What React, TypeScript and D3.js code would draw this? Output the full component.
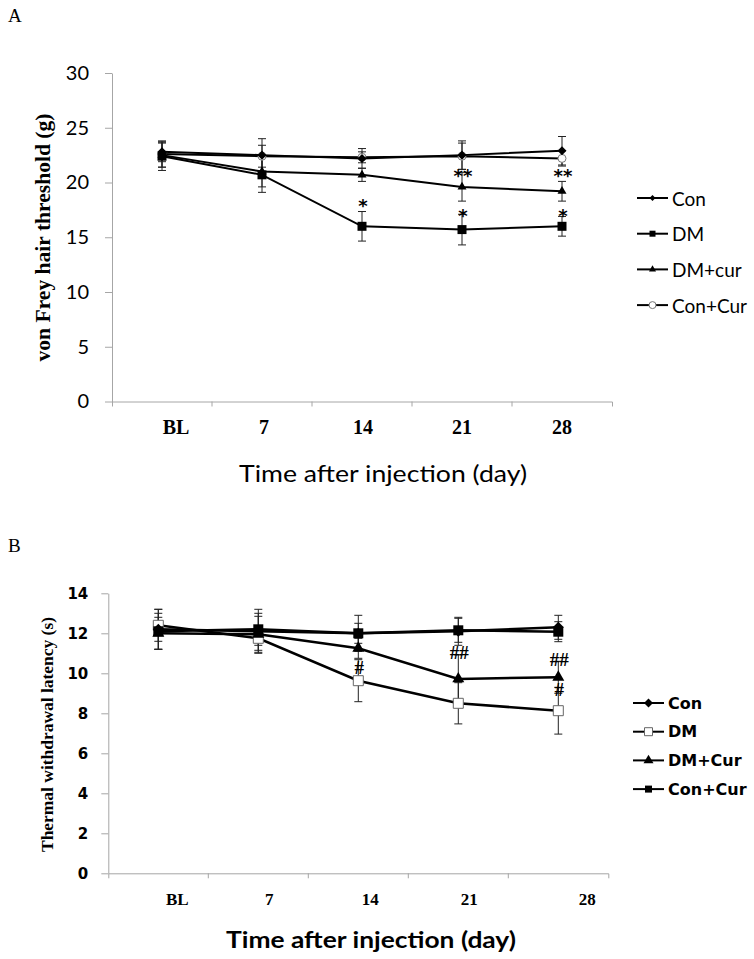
import React, { useEffect, useRef } from 'react';
import * as d3 from 'd3';

// categories shared by both panels
const days = ['BL', '7', '14', '21', '28'];

// Panel A: von Frey hair threshold (g)
const aNames = ['Con', 'DM', 'DM+cur', 'Con+Cur'];
const aCon = [22.8, 22.5, 22.2, 22.5, 22.9];
const aConErr = [0.9, 1.5, 0.9, 1.3, 1.3];
const aDM = [22.4, 20.7, 16.0, 15.7, 16.0];
const aDMErr = [1.3, 1.6, 1.35, 1.4, 0.9];
const aDMCur = [22.5, 21.0, 20.7, 19.6, 19.2];
const aDMCurErr = [1.1, 1.4, 0.6, 1.3, 0.9];
const aConCur = [22.6, 22.4, 22.3, 22.4, 22.2];
const aConCurErr = [1.2, 1.0, 0.5, 1.2, 0.7];
const aTicks = [0, 5, 10, 15, 20, 25, 30];
const aNoteDays = ['14', '21', '21', '28', '28'];
const aNoteText = ['*', '**', '*', '**', '*'];
const aNoteValue = [18.3, 21.0, 17.4, 21.0, 17.4];

// Panel B: thermal withdrawal latency (s)
const bNames = ['Con', 'DM', 'DM+Cur', 'Con+Cur'];
const bCon = [12.2, 12.1, 12.0, 12.1, 12.3];
const bConErr = [1.0, 1.1, 0.9, 0.7, 0.6];
const bDM = [12.4, 11.75, 9.63, 8.5, 8.13];
const bDMErr = [0.8, 0.6, 1.05, 1.03, 1.17];
const bDMCur = [12.0, 11.95, 11.25, 9.72, 9.8];
const bDMCurErr = [0.8, 0.9, 0.5, 1.2, 0.8];
const bConCur = [12.1, 12.2, 12.0, 12.15, 12.08];
const bConCurErr = [0.9, 0.8, 0.5, 0.6, 0.5];
const bTicks = [0, 2, 4, 6, 8, 10, 12, 14];
const bNoteDays = ['14', '21', '28', '28'];
const bNoteText = ['#', '##', '##', '#'];
const bNoteValue = [10.27, 11.03, 10.67, 9.17];

// label nudges seen in the figure (px from band centre)
const tickShiftA = [14, 2, 1, 0, 0];
const tickShiftB = [19, 11, 12, 11, 29];

const SERIF = '"Liberation Serif", "Times New Roman", serif';
const CAL = 'Lato, "Open Sans", sans-serif';
const VERD = '"DejaVu Sans", Verdana, sans-serif';
const AXIS = '#a6a6a6';

type Kind = 'diamond' | 'square' | 'triangle' | 'circle' | 'openSquare';

function marker(g: any, kind: Kind, cx: number, cy: number, size: number) {
  if (kind === 'circle') {
    g.append('circle').attr('cx', cx).attr('cy', cy).attr('r', size / 2)
      .attr('fill', '#fff').attr('stroke', '#777').attr('stroke-width', 1);
    return;
  }
  let path = '';
  let rot = 0;
  if (kind === 'diamond') { path = d3.symbol(d3.symbolSquare, size * size / 2)()!; rot = 45; }
  if (kind === 'square' || kind === 'openSquare') path = d3.symbol(d3.symbolSquare, size * size)()!;
  if (kind === 'triangle') path = d3.symbol(d3.symbolTriangle, Math.sqrt(3) / 4 * size * size)()!;
  const p = g.append('path').attr('d', path)
    .attr('transform', `translate(${cx},${cy}) rotate(${rot})`);
  if (kind === 'openSquare') p.attr('fill', '#fff').attr('stroke', '#666').attr('stroke-width', 1);
  else p.attr('fill', '#000');
}

const App: React.FC = () => {
  const svgRef = useRef<SVGSVGElement>(null);

  useEffect(() => {
    if (!svgRef.current) return;
    const svg = d3.select(svgRef.current);
    svg.selectAll('*').remove();

    const panels = [
      {
        label: 'A', labelY: 22,
        yMax: 30, yTop: 73, yBottom: 401.5, xLeft: 112, xRight: 612,
        ticks: aTicks, tickFont: CAL, tickSize: 20, tickWeight: 'normal', tickPad: 16,
        catFont: 20, catBase: 434, catShift: tickShiftA,
        yTitle: 'von Frey hair threshold (g)', yTitleX: 43, yTitleY: 237.5, yTitleLen: 248, yTitleSize: 20,
        xTitleX: 239, xTitleY: 482, xTitleLen: 288, xTitleWeight: 'normal',
        names: aNames,
        values: [aCon, aDM, aDMCur, aConCur],
        errs: [aConErr, aDMErr, aDMCurErr, aConCurErr],
        kinds: ['diamond', 'square', 'triangle', 'circle'] as Kind[],
        sizes: [9, 9, 9, 8],
        drawOrder: [3, 2, 1, 0],
        lineW: 2,
        legX: 637, legY: 198, legStep: 35.7, legFont: CAL, legSize: 19, legWeight: 'normal',
        legSizes: [6, 6, 7, 7],
        noteDays: aNoteDays, noteText: aNoteText, noteValue: aNoteValue,
        noteFont: VERD, noteSize: 18, noteLift: 0.6,
      },
      {
        label: 'B', labelY: 552,
        yMax: 14, yTop: 593.3, yBottom: 873.3, xLeft: 108.3, xRight: 608.3,
        ticks: bTicks, tickFont: VERD, tickSize: 15, tickWeight: 'bold', tickPad: 13,
        catFont: 17, catBase: 905, catShift: tickShiftB,
        yTitle: 'Thermal withdrawal latency (s)', yTitleX: 47, yTitleY: 734.5, yTitleLen: 235, yTitleSize: 16,
        xTitleX: 226, xTitleY: 947.5, xTitleLen: 290, xTitleWeight: 'bold',
        names: bNames,
        values: [bCon, bDM, bDMCur, bConCur],
        errs: [bConErr, bDMErr, bDMCurErr, bConCurErr],
        kinds: ['diamond', 'openSquare', 'triangle', 'square'] as Kind[],
        sizes: [11, 10, 12, 10],
        drawOrder: [1, 2, 0, 3],
        lineW: 2.5,
        legX: 633, legY: 703, legStep: 28.7, legFont: VERD, legSize: 16, legWeight: 'bold',
        legSizes: [9, 8, 10, 7],
        noteDays: bNoteDays, noteText: bNoteText, noteValue: bNoteValue,
        noteFont: SERIF, noteSize: 19, noteLift: 0.34,
      },
    ];

    panels.forEach((p) => {
      const g = svg.append('g');
      const x = d3.scaleBand<string>().domain(days).range([p.xLeft, p.xRight]);
      const y = d3.scaleLinear().domain([0, p.yMax]).range([p.yBottom, p.yTop]);
      const cx = (d: string) => (x(d) as number) + x.bandwidth() / 2;

      g.append('text').attr('x', 8).attr('y', p.labelY).text(p.label)
        .attr('font-family', SERIF).attr('font-size', 19);

      // y axis
      const ya = g.append('g').attr('transform', `translate(${p.xLeft},0)`)
        .call(d3.axisLeft(y).tickValues(p.ticks).tickSize(7).tickSizeOuter(0).tickPadding(p.tickPad));
      ya.selectAll('path, line').attr('stroke', AXIS);
      ya.selectAll('text').attr('font-family', p.tickFont).attr('font-size', p.tickSize)
        .attr('font-weight', p.tickWeight).attr('fill', '#000');

      // x axis with ticks at category boundaries
      const xa = g.append('g').attr('transform', `translate(0,${y(0)})`)
        .call(d3.axisBottom(x).tickSize(0).tickSizeOuter(5).tickFormat(() => ''));
      xa.selectAll('path').attr('stroke', AXIS);
      days.slice(1).forEach((d) => {
        g.append('line').attr('x1', x(d)!).attr('x2', x(d)!)
          .attr('y1', y(0)).attr('y2', y(0) + 5).attr('stroke', AXIS);
      });
      days.forEach((d, i) => {
        g.append('text').attr('x', cx(d) + p.catShift[i]).attr('y', p.catBase)
          .attr('text-anchor', 'middle').attr('font-family', SERIF).attr('font-weight', 'bold')
          .attr('font-size', p.catFont).text(d);
      });

      // titles
      g.append('text')
        .attr('transform', `translate(${p.yTitleX},${p.yTitleY}) rotate(-90)`)
        .attr('text-anchor', 'middle').attr('dominant-baseline', 'central')
        .attr('font-family', SERIF).attr('font-weight', 'bold').attr('font-size', p.yTitleSize)
        .attr('textLength', p.yTitleLen).attr('lengthAdjust', 'spacingAndGlyphs')
        .text(p.yTitle);
      g.append('text').attr('x', p.xTitleX).attr('y', p.xTitleY)
        .attr('font-family', CAL).attr('font-size', 23).attr('font-weight', p.xTitleWeight)
        .attr('textLength', p.xTitleLen).attr('lengthAdjust', 'spacingAndGlyphs')
        .text('Time after injection (day)');

      // error bars
      p.values.forEach((vals, s) => {
        vals.forEach((v, i) => {
          const e = p.errs[s][i];
          const xx = cx(days[i]);
          g.append('line').attr('x1', xx).attr('x2', xx).attr('y1', y(v - e)).attr('y2', y(v + e))
            .attr('stroke', '#222').attr('stroke-width', 1);
          [v - e, v + e].forEach((w) => {
            g.append('line').attr('x1', xx - 4).attr('x2', xx + 4).attr('y1', y(w)).attr('y2', y(w))
              .attr('stroke', '#222').attr('stroke-width', 1);
          });
        });
      });

      // lines and markers
      const line = d3.line<number>().x((_, i) => cx(days[i])).y((v) => y(v));
      p.drawOrder.forEach((s) => {
        g.append('path').datum(p.values[s]).attr('d', line)
          .attr('fill', 'none').attr('stroke', '#000').attr('stroke-width', p.lineW);
        p.values[s].forEach((v, i) => marker(g, p.kinds[s], cx(days[i]), y(v), p.sizes[s]));
      });

      // significance marks
      p.noteDays.forEach((d, i) => {
        g.append('text').attr('x', cx(d) + 1)
          .attr('y', y(p.noteValue[i]) + p.noteLift * p.noteSize)
          .attr('text-anchor', 'middle').attr('font-family', p.noteFont).attr('font-weight', 'bold')
          .attr('font-size', p.noteSize).text(p.noteText[i]);
      });

      // legend
      p.names.forEach((n, i) => {
        const ly = p.legY + i * p.legStep;
        g.append('line').attr('x1', p.legX).attr('x2', p.legX + 31).attr('y1', ly).attr('y2', ly)
          .attr('stroke', '#000').attr('stroke-width', 2);
        marker(g, p.kinds[i], p.legX + 15.5, ly, p.legSizes[i]);
        g.append('text').attr('x', p.legX + 35).attr('y', ly).attr('dominant-baseline', 'central')
          .attr('font-family', p.legFont).attr('font-weight', p.legWeight).attr('font-size', p.legSize)
          .text(n);
      });
    });
  }, []);

  return (
    <svg
      ref={svgRef}
      width={754}
      height={959}
      viewBox="0 0 754 959"
      style={{ position: 'absolute', left: 0, top: 0, background: '#fff' }}
    />
  );
};

export default App;
